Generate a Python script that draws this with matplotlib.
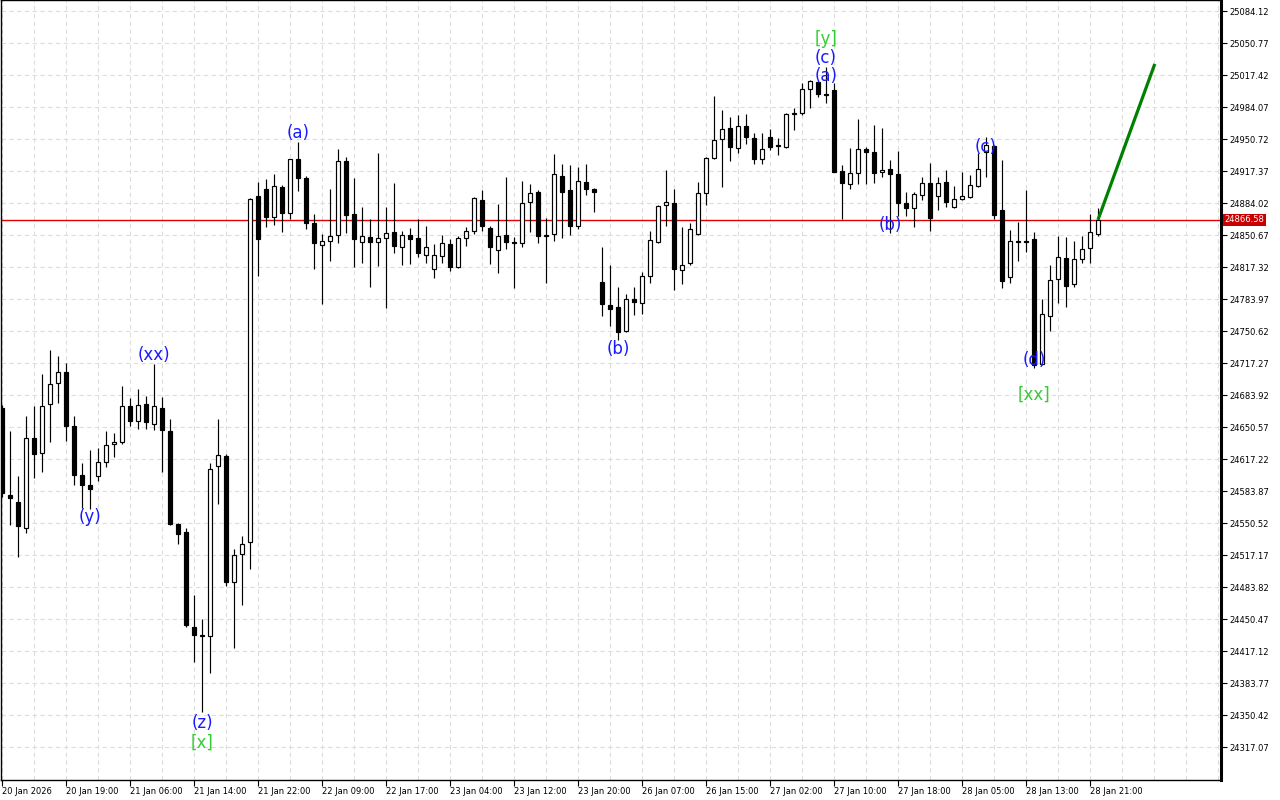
import numpy as np
import matplotlib
matplotlib.use('Agg')
import matplotlib.pyplot as plt

# hourly candles (k = 0 .. 137)
opens = [24670, 24580, 24572, 24545, 24639, 24623, 24675, 24696, 24708, 24652,
         24601, 24590, 24600, 24614, 24633, 24635, 24672, 24657, 24675, 24654,
         24670, 24646, 24550, 24541, 24442, 24434, 24433, 24610, 24620, 24489,
         24518, 24531, 24891, 24899, 24869, 24901, 24874, 24930, 24910, 24863,
         24840, 24844, 24851, 24928, 24873, 24843, 24849, 24843, 24848, 24854,
         24838, 24851, 24848, 24830, 24815, 24829, 24841, 24817, 24848, 24855,
         24887, 24858, 24835, 24851, 24843, 24842, 24885, 24896, 24851, 24852,
         24912, 24898, 24860, 24906, 24899, 24802, 24778, 24776, 24751, 24784,
         24780, 24808, 24843, 24882, 24884, 24814, 24822, 24852, 24894, 24931,
         24951, 24962, 24941, 24964, 24952, 24930, 24953, 24943, 24942, 24977,
         24978, 25003, 25010, 24998, 25002, 24917, 24904, 24915, 24940, 24937,
         24916, 24919, 24914, 24884, 24879, 24892, 24905, 24891, 24906, 24880,
         24888, 24890, 24902, 24937, 24943, 24877, 24807, 24843, 24844, 24846,
         24716, 24766, 24805, 24827, 24800, 24826, 24837, 24852]
highs = [24674, 24646, 24600, 24662, 24672, 24706, 24731, 24725, 24717, 24662,
         24613, 24627, 24629, 24646, 24644, 24693, 24681, 24690, 24683, 24716,
         24682, 24659, 24551, 24545, 24475, 24450, 24613, 24659, 24622, 24523,
         24537, 24889, 24906, 24909, 24914, 24903, 24930, 24948, 24912, 24873,
         24852, 24899, 24940, 24932, 24910, 24880, 24867, 24936, 24880, 24905,
         24855, 24858, 24867, 24860, 24841, 24851, 24846, 24850, 24859, 24890,
         24898, 24860, 24883, 24911, 24849, 24907, 24904, 24898, 24868, 24935,
         24925, 24924, 24922, 24925, 24900, 24838, 24819, 24796, 24789, 24797,
         24812, 24855, 24882, 24918, 24899, 24859, 24863, 24906, 24932, 24996,
         24981, 24974, 24976, 24977, 24957, 24957, 24961, 24952, 24978, 24983,
         25009, 25012, 25011, 25026, 25009, 24924, 24941, 24972, 24942, 24965,
         24962, 24929, 24938, 24896, 24896, 24911, 24926, 24911, 24918, 24902,
         24916, 24913, 24936, 24953, 24944, 24929, 24856, 24864, 24898, 24854,
         24784, 24819, 24850, 24849, 24844, 24850, 24873, 24879]
lows = [24578, 24548, 24515, 24540, 24597, 24604, 24635, 24676, 24636, 24590,
        24566, 24565, 24594, 24609, 24619, 24633, 24652, 24648, 24648, 24647,
        24604, 24548, 24529, 24442, 24406, 24354, 24394, 24570, 24485, 24420,
        24465, 24503, 24808, 24859, 24861, 24854, 24867, 24897, 24857, 24815,
        24779, 24824, 24842, 24853, 24817, 24822, 24796, 24818, 24775, 24832,
        24819, 24820, 24828, 24821, 24806, 24822, 24813, 24816, 24839, 24852,
        24855, 24820, 24811, 24836, 24795, 24838, 24854, 24842, 24801, 24844,
        24848, 24851, 24857, 24892, 24875, 24766, 24756, 24741, 24750, 24767,
        24768, 24801, 24842, 24860, 24793, 24800, 24819, 24851, 24882, 24930,
        24901, 24928, 24936, 24946, 24925, 24925, 24939, 24934, 24941, 24960,
        24976, 24983, 24994, 24988, 24916, 24867, 24899, 24904, 24904, 24905,
        24911, 24853, 24871, 24871, 24859, 24887, 24855, 24877, 24880, 24879,
        24887, 24889, 24901, 24911, 24867, 24795, 24801, 24824, 24833, 24712,
        24715, 24751, 24780, 24776, 24796, 24821, 24821, 24850]
closes = [24582, 24577, 24547, 24639, 24622, 24672, 24695, 24708, 24652, 24601,
          24590, 24586, 24614, 24632, 24635, 24672, 24657, 24673, 24656, 24672,
          24647, 24549, 24539, 24444, 24434, 24433, 24607, 24621, 24489, 24517,
          24529, 24888, 24846, 24869, 24902, 24874, 24930, 24910, 24863, 24842,
          24844, 24850, 24928, 24872, 24846, 24850, 24843, 24848, 24853, 24839,
          24851, 24846, 24832, 24838, 24830, 24842, 24817, 24848, 24855, 24889,
          24860, 24838, 24850, 24843, 24842, 24884, 24894, 24850, 24850, 24914,
          24896, 24860, 24907, 24899, 24896, 24779, 24774, 24750, 24784, 24781,
          24808, 24845, 24881, 24885, 24815, 24819, 24857, 24894, 24931, 24950,
          24961, 24942, 24964, 24953, 24930, 24940, 24942, 24944, 24977, 24978,
          25003, 25011, 24998, 24997, 24916, 24905, 24915, 24940, 24937, 24915,
          24918, 24914, 24884, 24879, 24893, 24905, 24868, 24905, 24885, 24888,
          24891, 24903, 24919, 24944, 24872, 24803, 24844, 24844, 24843, 24715,
          24768, 24804, 24828, 24798, 24826, 24836, 24854, 24866.58]

time_labels = ['20 Jan 2026', '20 Jan 19:00', '21 Jan 06:00', '21 Jan 14:00',
               '21 Jan 22:00', '22 Jan 09:00', '22 Jan 17:00', '23 Jan 04:00',
               '23 Jan 12:00', '23 Jan 20:00', '26 Jan 07:00', '26 Jan 15:00',
               '27 Jan 02:00', '27 Jan 10:00', '27 Jan 18:00', '28 Jan 05:00',
               '28 Jan 13:00', '28 Jan 21:00']

current_price = 24866.58
forecast_x = [137, 144.1]
forecast_y = [24866.58, 25029.0]

# wave marks: text, candle index, price level
wave_text = ['(y)', '(xx)', '(z)', '[x]', '(a)', '(b)', '[y]', '(c)', '(a)',
             '(b)', '(c)', '(d)', '[xx]']
wave_idx = [11, 19, 25, 25, 37, 77, 103, 103, 103, 111, 123, 129, 129]
wave_price = [24557, 24726, 24342, 24322, 24957, 24732, 25055, 25035, 25016,
              24861, 24942, 24720, 24684]
wave_degree = ['minor', 'minor', 'minor', 'major', 'minor', 'minor', 'major',
               'minor', 'minor', 'minor', 'minor', 'minor', 'major']

BLUE = '#1a1aff'
GREEN = '#33cc33'

fig = plt.figure(figsize=(12.8, 8), dpi=100)
ax = fig.add_axes([1 / 1280, 20 / 800, 1220 / 1280, 780 / 800])

ax.set_xlim(-0.125, 152.375)
ax.set_ylim(24282.7, 25095.6)

# grid
price_ticks = [24317.07 + 33.35 * i for i in range(24)]
for gx in range(0, 153, 4):
    ax.axvline(gx, color='#dddddd', lw=0.8, ls=(0, (4, 3)), zorder=0)
for gy in price_ticks:
    ax.axhline(gy, color='#dddddd', lw=0.8, ls=(0, (4, 3)), zorder=0)

# candles
x = np.arange(len(opens))
o = np.array(opens, dtype=float)
c = np.array(closes, dtype=float)
up = c >= o
ax.vlines(x, lows, highs, color='black', lw=0.85, zorder=2)
body_h = np.maximum(np.abs(c - o), 0.6)
ax.bar(x, body_h, 0.56, bottom=np.minimum(o, c),
       color=np.where(up, 'white', 'black'), edgecolor='black',
       linewidth=0.85, zorder=3)

# current price line + tag
ax.axhline(current_price, color='#e00000', lw=1.0, zorder=1)
ax.text(1.003, current_price, '%.2f' % current_price, transform=ax.get_yaxis_transform(),
        color='white', fontsize=6, va='center', ha='left', clip_on=False,
        bbox=dict(boxstyle='square,pad=0.2', fc='#c80000', ec='none'))

# forecast line
ax.plot(forecast_x, forecast_y, color='#008000', lw=2.3, zorder=4,
        solid_capstyle='butt')

# wave labels
for t, i, p, d in zip(wave_text, wave_idx, wave_price, wave_degree):
    ax.text(i, p, t, color=GREEN if d == 'major' else BLUE, fontsize=12,
            ha='center', va='center', zorder=5)

# axes styling
ax.yaxis.tick_right()
ax.set_yticks(price_ticks)
ax.set_yticklabels(['%.2f' % v for v in price_ticks])
ax.tick_params(axis='y', length=4, width=0.8, labelsize=6, pad=2, direction='out')
ax.set_xticks(np.arange(0, 137, 8))
ax.set_xticklabels(time_labels)
ax.tick_params(axis='x', length=4, width=0.8, labelsize=6, pad=1, direction='out')
for lab in ax.get_xticklabels():
    lab.set_ha('left')
for s in ax.spines.values():
    s.set_linewidth(1.0)
    s.set_color('black')
ax.spines['right'].set_linewidth(2.2)

fig.savefig('out.png', dpi=100)
